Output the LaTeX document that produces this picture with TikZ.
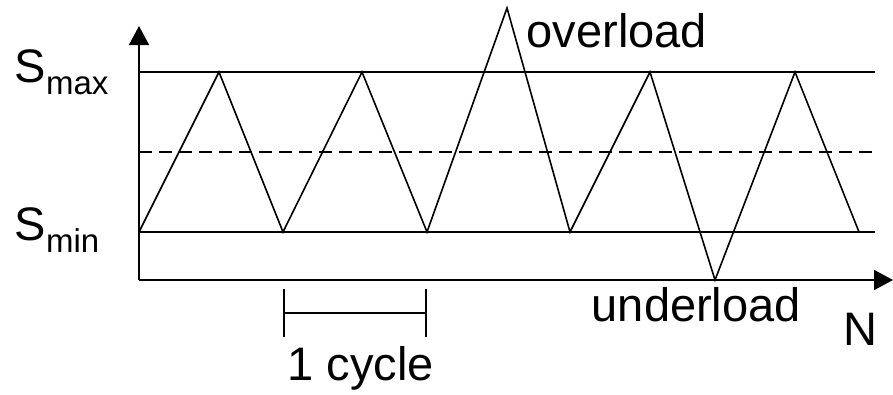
\documentclass[tikz,border=0pt]{standalone}
\usepackage{fontspec}
\setmainfont{Liberation Sans}
\usetikzlibrary{arrows.meta}
\tikzset{
  lbl/.style={anchor=base west, inner sep=0pt, font=\fontsize{47}{47}\selectfont},
  axis/.style={-{Triangle[width=20pt,length=19pt]}},
  cyclebar/.style={{Bar[width=48pt]}-{Bar[width=48pt]}},
}
\newcommand{\subtext}[1]{\raisebox{-12pt}{\fontsize{33}{33}\selectfont #1}}

\begin{document}
\begin{tikzpicture}[x=1pt,y=-1pt,line width=1.6pt]
    \useasboundingbox (0,0) rectangle (893,394);
    \coordinate (o) at (139,280);
    \coordinate (ytop) at (139,26);
    \coordinate (xend) at (893,280);
    \draw[axis] (o) -- (ytop);
    \draw[axis] (o) -- (xend);
    \draw (139,72) coordinate (smaxL) -- (875,72) coordinate (smaxR);
    \draw[dash pattern=on 13pt off 7pt] (139,152) coordinate (smeanL) -- (873,152) coordinate (smeanR);
    \draw (139,232) coordinate (sminL) -- (875,232) coordinate (sminR);
    \coordinate (w0) at (139,232);
    \coordinate (w1) at (219,72);
    \coordinate (w2) at (283,232);
    \coordinate (w3) at (362,72);
    \coordinate (w4) at (427,232);
    \coordinate (w5) at (507,8);
    \coordinate (w6) at (570,232);
    \coordinate (w7) at (650,72);
    \coordinate (w8) at (715,280);
    \coordinate (w9) at (795,72);
    \coordinate (w10) at (859,232);
    \draw (w0) -- (w1) -- (w2) -- (w3) -- (w4) -- (w5) -- (w6) -- (w7) -- (w8) -- (w9) -- (w10);
    \coordinate (c1) at (283,313);
    \coordinate (c2) at (427,313);
    \draw[cyclebar] (c1) -- (c2);
    \node[lbl] (smax) at (14,82) {S\subtext{max}};
    \node[lbl] (smin) at (14,240) {S\subtext{min}};
    \node[lbl] (over) at (526,47) {overload};
    \node[lbl] (under) at (591,321) {underload};
    \node[lbl] (n) at (843,345) {N};
    \node[lbl] (cyc) at (287,380) {1 cycle};
\end{tikzpicture}
\end{document}
